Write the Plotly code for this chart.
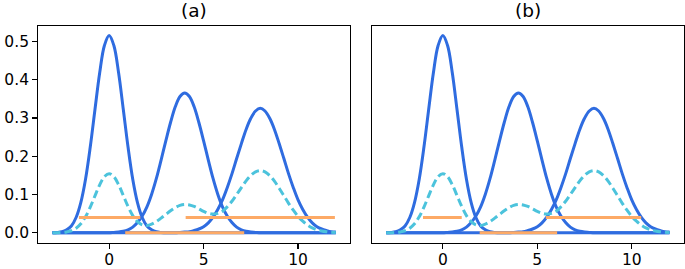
import plotly.graph_objects as go

# ---- data ----
x_vals = [-3.0 + 0.25 * i for i in range(61)]

comp1 = [0.000, 0.001, 0.003, 0.008, 0.018, 0.040, 0.079, 0.140, 0.224, 0.322,
         0.418, 0.489, 0.515, 0.489, 0.418, 0.322, 0.224, 0.140, 0.079, 0.040,
         0.018, 0.008, 0.003, 0.001, 0.000, 0.000, 0.000, 0.000, 0.000, 0.000,
         0.000, 0.000, 0.000, 0.000, 0.000, 0.000, 0.000, 0.000, 0.000, 0.000,
         0.000, 0.000, 0.000, 0.000, 0.000, 0.000, 0.000, 0.000, 0.000, 0.000,
         0.000, 0.000, 0.000, 0.000, 0.000, 0.000, 0.000, 0.000, 0.000, 0.000,
         0.000]
comp2 = [0.000, 0.000, 0.000, 0.000, 0.000, 0.000, 0.000, 0.000, 0.000, 0.000,
         0.000, 0.000, 0.000, 0.001, 0.002, 0.004, 0.008, 0.015, 0.027, 0.044,
         0.068, 0.101, 0.142, 0.190, 0.240, 0.288, 0.329, 0.356, 0.365, 0.356,
         0.329, 0.288, 0.240, 0.190, 0.142, 0.101, 0.068, 0.044, 0.027, 0.015,
         0.008, 0.004, 0.002, 0.001, 0.000, 0.000, 0.000, 0.000, 0.000, 0.000,
         0.000, 0.000, 0.000, 0.000, 0.000, 0.000, 0.000, 0.000, 0.000, 0.000,
         0.000]
comp3 = [0.000, 0.000, 0.000, 0.000, 0.000, 0.000, 0.000, 0.000, 0.000, 0.000,
         0.000, 0.000, 0.000, 0.000, 0.000, 0.000, 0.000, 0.000, 0.000, 0.000,
         0.000, 0.000, 0.000, 0.000, 0.000, 0.000, 0.000, 0.001, 0.002, 0.003,
         0.006, 0.010, 0.016, 0.026, 0.041, 0.061, 0.086, 0.118, 0.154, 0.194,
         0.233, 0.270, 0.299, 0.318, 0.325, 0.318, 0.299, 0.270, 0.233, 0.194,
         0.154, 0.118, 0.086, 0.061, 0.041, 0.026, 0.016, 0.010, 0.006, 0.003,
         0.002]
mixture = [0.0000, 0.0003, 0.0009, 0.0024, 0.0054, 0.0120, 0.0237, 0.0420, 0.0672, 0.0966,
           0.1254, 0.1467, 0.1545, 0.1469, 0.1258, 0.0974, 0.0688, 0.0450, 0.0291, 0.0208,
           0.0190, 0.0226, 0.0293, 0.0383, 0.0480, 0.0576, 0.0658, 0.0717, 0.0740, 0.0727,
           0.0688, 0.0626, 0.0560, 0.0510, 0.0489, 0.0507, 0.0566, 0.0678, 0.0824, 0.1000,
           0.1181, 0.1358, 0.1499, 0.1592, 0.1625, 0.1590, 0.1495, 0.1350, 0.1165, 0.0970,
           0.0770, 0.0590, 0.0430, 0.0305, 0.0205, 0.0130, 0.0080, 0.0050, 0.0030, 0.0015,
           0.0010]

# orange interval segments
a_starts = [-1.6, 0.85, 4.05]
a_ends = [1.65, 7.15, 11.95]
a_levels = [0.04, 0.0, 0.04]
b_starts = [-1.05, 1.95, 5.45]
b_ends = [1.0, 6.05, 10.5]
b_levels = [0.04, 0.0, 0.04]

panel_titles = ["(a)", "(b)"]
x_tickvals = [0, 5, 10]
x_ticktext = ["0", "5", "10"]
y_tickvals = [0.0, 0.1, 0.2, 0.3, 0.4, 0.5]
y_ticktext = ["0.0", "0.1", "0.2", "0.3", "0.4", "0.5"]

# ---- styles ----
BLUE = "#2f6ce0"
CYAN = "#4cc3dc"
ORANGE = "#fdaa66"
FONT = "DejaVu Sans"

fig = go.Figure()

panels = [("x", "y", a_starts, a_ends, a_levels), ("x2", "y2", b_starts, b_ends, b_levels)]
for xa, ya, starts, ends, levels in panels:
    for comp in (comp1, comp2, comp3):
        fig.add_trace(go.Scatter(x=x_vals, y=comp, mode="lines", xaxis=xa, yaxis=ya,
                                 line=dict(color=BLUE, width=3, shape="spline"),
                                 showlegend=False, hoverinfo="skip"))
    fig.add_trace(go.Scatter(x=x_vals, y=mixture, mode="lines", xaxis=xa, yaxis=ya,
                             line=dict(color=CYAN, width=3, dash="8px,4px", shape="spline"),
                             showlegend=False, hoverinfo="skip"))
    for s, e, lv in zip(starts, ends, levels):
        fig.add_trace(go.Scatter(x=[s, e], y=[lv, lv], mode="lines", xaxis=xa, yaxis=ya,
                                 line=dict(color=ORANGE, width=3),
                                 showlegend=False, hoverinfo="skip"))

W, H = 685, 269
x_dom_a = [38.3 / W, 350.0 / W]
x_dom_b = [372.0 / W, 683.7 / W]
y_dom = [1 - 242.7 / H, 1 - 25.7 / H]
xr = [-3.75, 12.75]
yr = [-0.02575, 0.54075]

axis_common = dict(showline=True, mirror=True, linecolor="black", linewidth=1.2,
                   showgrid=False, zeroline=False, ticks="outside", ticklen=5,
                   tickwidth=1.2, tickcolor="black", automargin=False,
                   tickfont=dict(family=FONT, size=15.5, color="black"))

fig.update_layout(
    width=W, height=H,
    margin=dict(l=0, r=0, t=0, b=0, autoexpand=False),
    paper_bgcolor="white", plot_bgcolor="white",
    xaxis=dict(domain=x_dom_a, range=xr, tickvals=x_tickvals, ticktext=x_ticktext,
               anchor="y", ticklabelstandoff=-3, **axis_common),
    yaxis=dict(domain=y_dom, range=yr, tickvals=y_tickvals, ticktext=y_ticktext,
               anchor="x", **axis_common),
    xaxis2=dict(domain=x_dom_b, range=xr, tickvals=x_tickvals, ticktext=x_ticktext,
                anchor="y2", ticklabelstandoff=-3, **axis_common),
    yaxis2=dict(domain=y_dom, range=yr, anchor="x2",
                **{**axis_common, "ticks": "", "showticklabels": False}),
)

for dom, title in zip([x_dom_a, x_dom_b], panel_titles):
    fig.add_annotation(text=title, xref="paper", yref="paper",
                       x=(dom[0] + dom[1]) / 2, y=1 - 10.5 / H,
                       xanchor="center", yanchor="middle", showarrow=False,
                       font=dict(family=FONT, size=18.5, color="black"))

fig.write_html("out.html", config={"displayModeBar": False, "staticPlot": True},
               post_script="document.body.style.margin='0';document.body.style.overflow='hidden';")
